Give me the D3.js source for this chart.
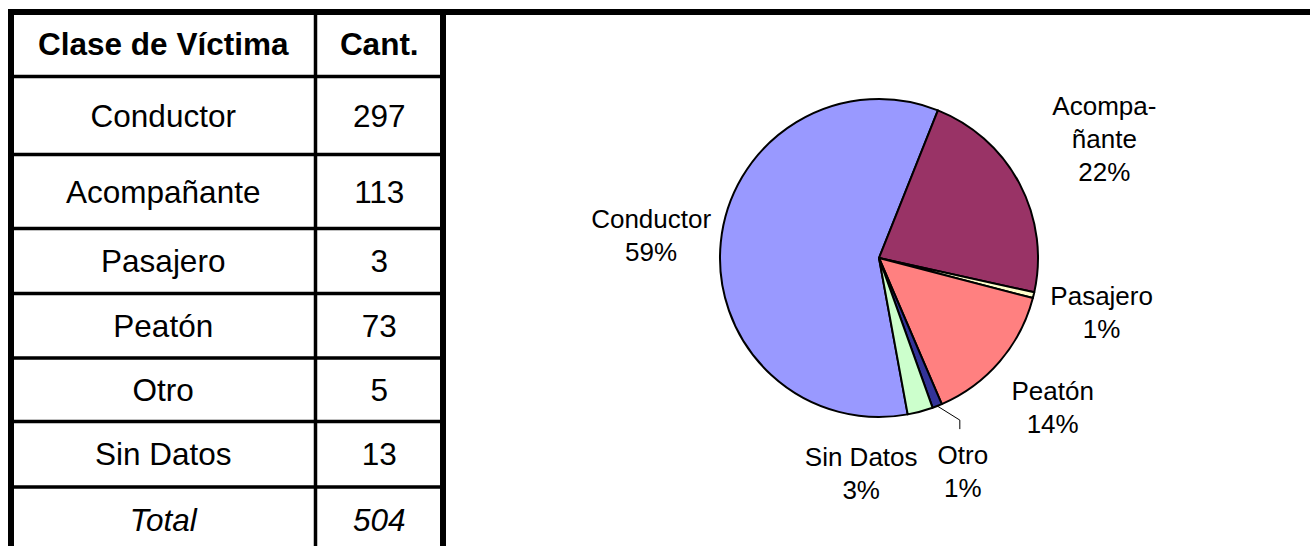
<!DOCTYPE html>
<html>
<head>
<meta charset="utf-8">
<script src="https://cdn.jsdelivr.net/npm/d3@7"></script>
<style>
  body { margin: 0; background: #fff; }
  svg { display: block; font-family: Arial, "Liberation Sans", sans-serif; }
</style>
</head>
<body>
<svg width="1310" height="546"></svg>
<script>
// data
var categories = ["Conductor", "Acompañante", "Pasajero", "Peatón", "Otro", "Sin Datos"];
var counts = [297, 113, 3, 73, 5, 13];
var pieLabels = ["Conductor", "Acompa-\nñante", "Pasajero", "Peatón", "Otro", "Sin Datos"];
var headers = ["Clase de Víctima", "Cant."];
var totalLabel = "Total";
var sliceColors = ["#9999ff", "#993366", "#ffffcc", "#ff8080", "#333399", "#ccffcc"];
var leaderFor = ["Otro"];

var svg = d3.select("svg"),
    W = +svg.attr("width"),
    H = +svg.attr("height");

var total = d3.sum(counts);

// ---- table ----
// row edges (y) of the table, header first, Total last
var rowEdges = [12, 76.5, 154.5, 228.5, 293.5, 358, 421.5, 487, 552];
var colEdges = [11, 315.5, 443];

var rows = [{a: headers[0], b: headers[1], style: "bold"}];
categories.forEach(function(c, i) { rows.push({a: c, b: counts[i], style: "normal"}); });
rows.push({a: totalLabel, b: total, style: "italic"});

var table = svg.append("g");

// inner horizontal lines
table.selectAll(".hline")
  .data(rowEdges.slice(1, -1))
  .enter().append("line")
    .attr("x1", colEdges[0]).attr("x2", colEdges[2])
    .attr("y1", function(d) { return d; }).attr("y2", function(d) { return d; })
    .attr("stroke", "#000").attr("stroke-width", 3.5);

// column separator
table.append("line")
  .attr("x1", colEdges[1]).attr("x2", colEdges[1])
  .attr("y1", rowEdges[0]).attr("y2", H)
  .attr("stroke", "#000").attr("stroke-width", 3.5);

// cell text
var cellRows = table.selectAll(".row")
  .data(rows)
  .enter().append("g")
    .attr("transform", function(d, i) { return "translate(0," + ((rowEdges[i] + rowEdges[i + 1]) / 2 + 11) + ")"; });

cellRows.append("text")
  .attr("x", (colEdges[0] + colEdges[1]) / 2)
  .attr("text-anchor", "middle")
  .attr("font-size", 31.5)
  .attr("font-weight", function(d) { return d.style == "bold" ? "bold" : "normal"; })
  .attr("font-style", function(d) { return d.style == "italic" ? "italic" : "normal"; })
  .text(function(d) { return d.a; });

cellRows.append("text")
  .attr("x", (colEdges[1] + colEdges[2]) / 2)
  .attr("text-anchor", "middle")
  .attr("font-size", 31.5)
  .attr("font-weight", function(d) { return d.style == "bold" ? "bold" : "normal"; })
  .attr("font-style", function(d) { return d.style == "italic" ? "italic" : "normal"; })
  .text(function(d) { return d.b; });

// thick outer frame: top line across the whole page, left and right of table
svg.append("line").attr("x1", 8).attr("x2", W).attr("y1", 12).attr("y2", 12)
  .attr("stroke", "#000").attr("stroke-width", 6);
svg.append("line").attr("x1", colEdges[0]).attr("x2", colEdges[0]).attr("y1", 9).attr("y2", H)
  .attr("stroke", "#000").attr("stroke-width", 6);
svg.append("line").attr("x1", colEdges[2]).attr("x2", colEdges[2]).attr("y1", 9).attr("y2", H)
  .attr("stroke", "#000").attr("stroke-width", 6);

// ---- pie ----
var cx = 879, cy = 258, radius = 159;
var startA = 169.6 * Math.PI / 180;

var pie = d3.pie().sort(null).value(function(d) { return d; })
    .startAngle(startA).endAngle(startA + 2 * Math.PI);
var arc = d3.arc().innerRadius(0).outerRadius(radius);

var arcs = pie(counts);
var g = svg.append("g").attr("transform", "translate(" + cx + "," + cy + ")");

g.selectAll(".slice")
  .data(arcs)
  .enter().append("path")
    .attr("d", arc)
    .attr("fill", function(d, i) { return sliceColors[i]; })
    .attr("stroke", "#000")
    .attr("stroke-width", 2)
    .attr("stroke-linejoin", "round");

// labels
var lineH = 33;
var labels = arcs.map(function(d, i) {
  var lines = pieLabels[i].split("\n").concat([Math.round(d.value / total * 100) + "%"]);
  var mid = (d.startAngle + d.endAngle) / 2;
  var R = radius + 70 + (lines.length - 2) * 26;
  return {i: i, lines: lines, mid: mid, x: R * Math.sin(mid), y: -R * Math.cos(mid)};
});

var lab = g.selectAll(".lab")
  .data(labels)
  .enter().append("text")
    .attr("text-anchor", "middle")
    .attr("font-size", 26)
    .attr("fill", "#000");

lab.selectAll("tspan")
  .data(function(d) { return d.lines.map(function(t, k) { return {t: t, k: k, n: d.lines.length}; }); })
  .enter().append("tspan")
    .text(function(t) { return t.t; });

function place() {
  lab.each(function(d) {
    d3.select(this).selectAll("tspan")
      .attr("x", d.x)
      .attr("y", function(t) { return d.y + (t.k - (t.n - 1) / 2) * lineH + 9.5; });
  });
}
place();

// push overlapping labels apart (later one moves left, same row)
lab.each(function(d) { d.w = this.getBBox().width; });
for (var k = 1; k < labels.length; k++) {
  var a = labels[k - 1], b = labels[k];
  var overlapX = Math.abs(a.x - b.x) < (a.w + b.w) / 2;
  var overlapY = Math.abs(a.y - b.y) < lineH * (a.lines.length + b.lines.length) / 2;
  if (overlapX && overlapY) {
    b.x = a.x - a.w / 2 - 20 - b.w / 2;
    b.y = a.y + 2;
  }
}
place();

// leader lines
labels.forEach(function(d) {
  if (leaderFor.indexOf(categories[d.i]) < 0) return;
  var sx = radius * Math.sin(d.mid), sy = -radius * Math.cos(d.mid);
  var top = d.y - d.lines.length * lineH / 2;
  g.append("path")
    .attr("d", d3.line()([[sx, sy], [d.x - 3, top - 18], [d.x - 3, top - 9]]))
    .attr("fill", "none")
    .attr("stroke", "#000")
    .attr("stroke-width", 1);
});
</script>
</body>
</html>
